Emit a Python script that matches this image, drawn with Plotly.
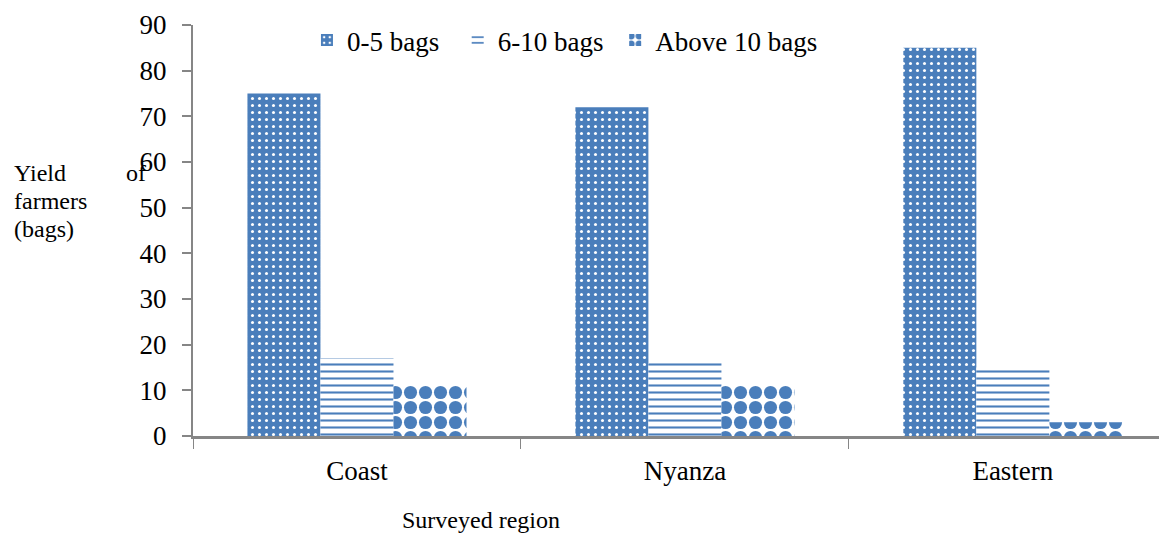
import plotly.graph_objects as go

regions = ["Coast", "Nyanza", "Eastern"]
bags_0_5 = [75, 72, 85]
bags_6_10 = [17, 16, 15]
bags_above_10 = [11, 11, 3]
y_ticks = [0, 10, 20, 30, 40, 50, 60, 70, 80, 90]

BLUE = "#4A7EBB"
FONT = "Liberation Serif"
NB = "\u00a0"

fig = go.Figure()
fig.add_trace(go.Bar(
    x=regions, y=bags_0_5, name="0-5 bags" + NB * 2,
    marker=dict(color=BLUE, line=dict(width=0),
                pattern=dict(shape=".", fgcolor="white", bgcolor=BLUE, size=7, solidity=0.15, fillmode="replace")),
))
fig.add_trace(go.Bar(
    x=regions, y=bags_6_10, name="6-10 bags" + NB,
    marker=dict(color="white", line=dict(width=0),
                pattern=dict(shape="-", fgcolor=BLUE, bgcolor="white", size=7, solidity=0.3, fillmode="replace")),
))
fig.add_trace(go.Bar(
    x=regions, y=bags_above_10, name="Above 10 bags",
    marker=dict(color="white", line=dict(width=0),
                pattern=dict(shape=".", fgcolor=BLUE, bgcolor="white", size=15, solidity=0.6, fillmode="replace")),
))

# page has an 8px body margin, so the figure is shifted 8px right/down
fig.update_layout(
    width=1167, height=533,
    margin=dict(l=185, r=8, t=17, b=105, autoexpand=False),
    paper_bgcolor="white", plot_bgcolor="white",
    barmode="group", bargap=0.332, bargroupgap=0,
    font=dict(family=FONT, color="black"),
    showlegend=True,
    legend=dict(orientation="h", x=0.117, y=1.022, xanchor="left", yanchor="top",
                font=dict(family=FONT, size=27), itemwidth=30, bgcolor="rgba(0,0,0,0)",
                tracegroupgap=0),
)
fig.update_yaxes(
    range=[0, 90], tickvals=y_ticks, showgrid=False, zeroline=False, automargin=False,
    showline=True, linecolor="#868686", linewidth=2,
    ticks="outside", ticklen=9, tickcolor="#868686", tickwidth=2,
    tickfont=dict(family=FONT, size=27), ticklabelstandoff=10,
)
fig.update_xaxes(
    type="category", range=[-0.5, 2.47], showgrid=False, zeroline=False, automargin=False,
    showline=True, linecolor="#868686", linewidth=3,
    ticks="outside", tickson="boundaries", ticklen=10, tickcolor="#868686", tickwidth=1,
    tickfont=dict(family=FONT, size=27), ticklabelstandoff=9,
)

ann_font = dict(family=FONT, size=24, color="black")
base = 0.64 * 411
fig.add_annotation(text="Yield", xref="paper", yref="paper", x=0, y=0,
                   xanchor="left", yanchor="middle", showarrow=False, font=ann_font,
                   xshift=-181, yshift=base)
fig.add_annotation(text="of", x=0, y=0, xref="paper", yref="paper", showarrow=False, font=ann_font,
                   xanchor="left", yanchor="middle", xshift=-69, yshift=base)
fig.add_annotation(text="farmers", xref="paper", yref="paper", x=0, y=0,
                   xanchor="left", yanchor="middle", showarrow=False, font=ann_font,
                   xshift=-181, yshift=base - 28)
fig.add_annotation(text="(bags)", xref="paper", yref="paper", x=0, y=0,
                   xanchor="left", yanchor="middle", showarrow=False, font=ann_font,
                   xshift=-181, yshift=base - 56)
fig.add_annotation(text="Surveyed region", xref="paper", yref="paper", x=0, y=0,
                   xanchor="center", yanchor="middle", showarrow=False, font=ann_font,
                   xshift=481 - 193, yshift=-(520 - 436))

fig.write_html("out.html")
